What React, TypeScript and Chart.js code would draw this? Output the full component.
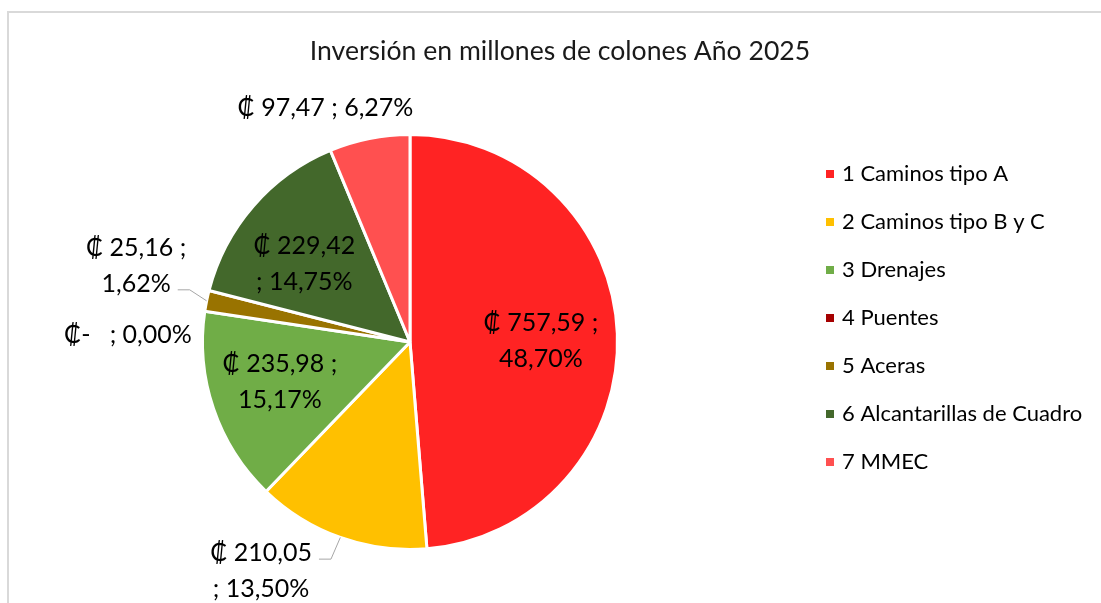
import React, { useEffect, useRef } from "react";
import { Chart, registerables } from "chart.js";

Chart.register(...registerables);

// ---- data ----
const categories = [
  "1 Caminos tipo A",
  "2 Caminos tipo B y C",
  "3 Drenajes",
  "4 Puentes",
  "5 Aceras",
  "6 Alcantarillas de Cuadro",
  "7 MMEC",
];
const values = [757.59, 210.05, 235.98, 0, 25.16, 229.42, 97.47];
const colors = ["#FF2323", "#FFC000", "#70AD47", "#A50000", "#997300", "#43682B", "#FF5050"];
const titleText = "Inversión en millones de colones Año 2025";
const currency = "₡";

// ---- label layout (placement only) ----
const labelBreak = ["after", "before", "after", "none", "after", "before", "none"];
const labelRadius = [0.631, 1.317, 0.656, 1.36, 1.37, 0.632, 1.198];
const labelShiftDeg = [1.7, 13.4, 1.6, -7.1, 4.1, -4.6, -8.6];
const labelLeader = [false, true, false, false, true, false, false];

const FONT = "Lato, 'Open Sans', sans-serif";
const TITLE_SIZE = 26.6;
const LABEL_SIZE = 25;
const LABEL_LH = 36;
const LEGEND_SIZE = 22;

function fmt(v: number) {
  return v.toFixed(2).replace(".", ",");
}

function buildLines(i: number, total: number): string[] {
  const v = values[i];
  const pct = fmt((v / total) * 100) + "%";
  const money = v === 0 ? currency + "-  " : currency + " " + fmt(v);
  const b = labelBreak[i];
  if (b === "after") return [money + " ;", pct];
  if (b === "before") return [money, "; " + pct];
  return [money + " ; " + pct];
}

const overlayPlugin = {
  id: "overlay",
  afterDatasetsDraw(chart: any) {
    const ctx = chart.ctx as CanvasRenderingContext2D;
    const meta = chart.getDatasetMeta(0);
    const data = chart.data.datasets[0].data as number[];
    const total = data.reduce((a, b) => a + b, 0);
    ctx.save();
    ctx.font = `${LABEL_SIZE}px ${FONT}`;
    ctx.textAlign = "center";
    ctx.textBaseline = "middle";
    meta.data.forEach((arc: any, i: number) => {
      const { x, y, startAngle, endAngle, outerRadius } = arc.getProps(
        ["x", "y", "startAngle", "endAngle", "outerRadius"],
        true
      );
      const mid = (startAngle + endAngle) / 2;
      const a = mid + (labelShiftDeg[i] * Math.PI) / 180;
      const r = outerRadius * labelRadius[i];
      const cx = x + Math.cos(a) * r;
      const cy = y + Math.sin(a) * r;
      const lines = buildLines(i, total);
      const y0 = cy - ((lines.length - 1) * LABEL_LH) / 2;
      ctx.fillStyle = "#000";
      lines.forEach((t, k) => ctx.fillText(t, cx, y0 + k * LABEL_LH));
      if (labelLeader[i]) {
        const ex = x + Math.cos(mid) * outerRadius;
        const ey = y + Math.sin(mid) * outerRadius;
        let best = 0;
        lines.forEach((_, k) => {
          if (Math.abs(y0 + k * LABEL_LH - ey) < Math.abs(y0 + best * LABEL_LH - ey)) best = k;
        });
        const ly = y0 + best * LABEL_LH + 6;
        const w = ctx.measureText(lines[best]).width;
        const sx = cx + w / 2 + 7;
        ctx.strokeStyle = "#A6A6A6";
        ctx.lineWidth = 1;
        ctx.beginPath();
        ctx.moveTo(sx, ly);
        ctx.lineTo(sx + 12, ly);
        ctx.lineTo(ex, ey);
        ctx.stroke();
      }
    });

    // title
    ctx.font = `${TITLE_SIZE}px ${FONT}`;
    ctx.fillStyle = "#1a1a1a";
    ctx.textAlign = "center";
    ctx.fillText(titleText, 560, 51);

    // legend
    ctx.font = `${LEGEND_SIZE}px ${FONT}`;
    ctx.textAlign = "left";
    const labels = chart.data.labels as string[];
    labels.forEach((lab, i) => {
      const ry = 174 + i * 48;
      ctx.fillStyle = (chart.data.datasets[0].backgroundColor as string[])[i];
      ctx.fillRect(826, ry - 4, 8, 8);
      ctx.fillStyle = "#000";
      ctx.fillText(lab, 842, ry);
    });
    ctx.restore();
  },
};

export default function App() {
  const ref = useRef<HTMLCanvasElement | null>(null);
  useEffect(() => {
    let chart: Chart | null = null;
    let cancelled = false;
    const make = () => {
      if (cancelled || !ref.current) return;
      chart = new Chart(ref.current, {
        type: "pie",
        data: {
          labels: categories,
          datasets: [
            {
              data: values,
              backgroundColor: colors,
              borderColor: "#ffffff",
              borderWidth: 3,
              hoverOffset: 0,
            },
          ],
        },
        options: {
          responsive: false,
          animation: false,
          devicePixelRatio: 1,
          layout: { padding: { left: 201, right: 482, top: 133, bottom: 52 } },
          plugins: {
            legend: { display: false },
            title: { display: false },
            tooltip: { enabled: false },
          },
        },
        plugins: [overlayPlugin],
      });
    };
    const fontsApi = (document as any).fonts;
    if (fontsApi && fontsApi.load) {
      Promise.all([
        fontsApi.load(`${LABEL_SIZE}px Lato`),
        fontsApi.load(`${TITLE_SIZE}px Lato`),
      ])
        .catch(() => null)
        .then(make);
    } else make();
    return () => {
      cancelled = true;
      if (chart) chart.destroy();
    };
  }, []);
  return (
    <div
      style={{
        position: "fixed",
        left: 0,
        top: 0,
        width: 1101,
        height: 603,
        background: "#fff",
        overflow: "hidden",
      }}
    >
      <div
        style={{
          position: "absolute",
          left: 7,
          top: 11,
          width: 1200,
          height: 700,
          borderLeft: "2px solid #D9D9D9",
          borderTop: "2px solid #D9D9D9",
        }}
      />
      <canvas
        ref={ref}
        width={1101}
        height={603}
        style={{ position: "absolute", left: 0, top: 0, display: "block" }}
      />
    </div>
  );
}
